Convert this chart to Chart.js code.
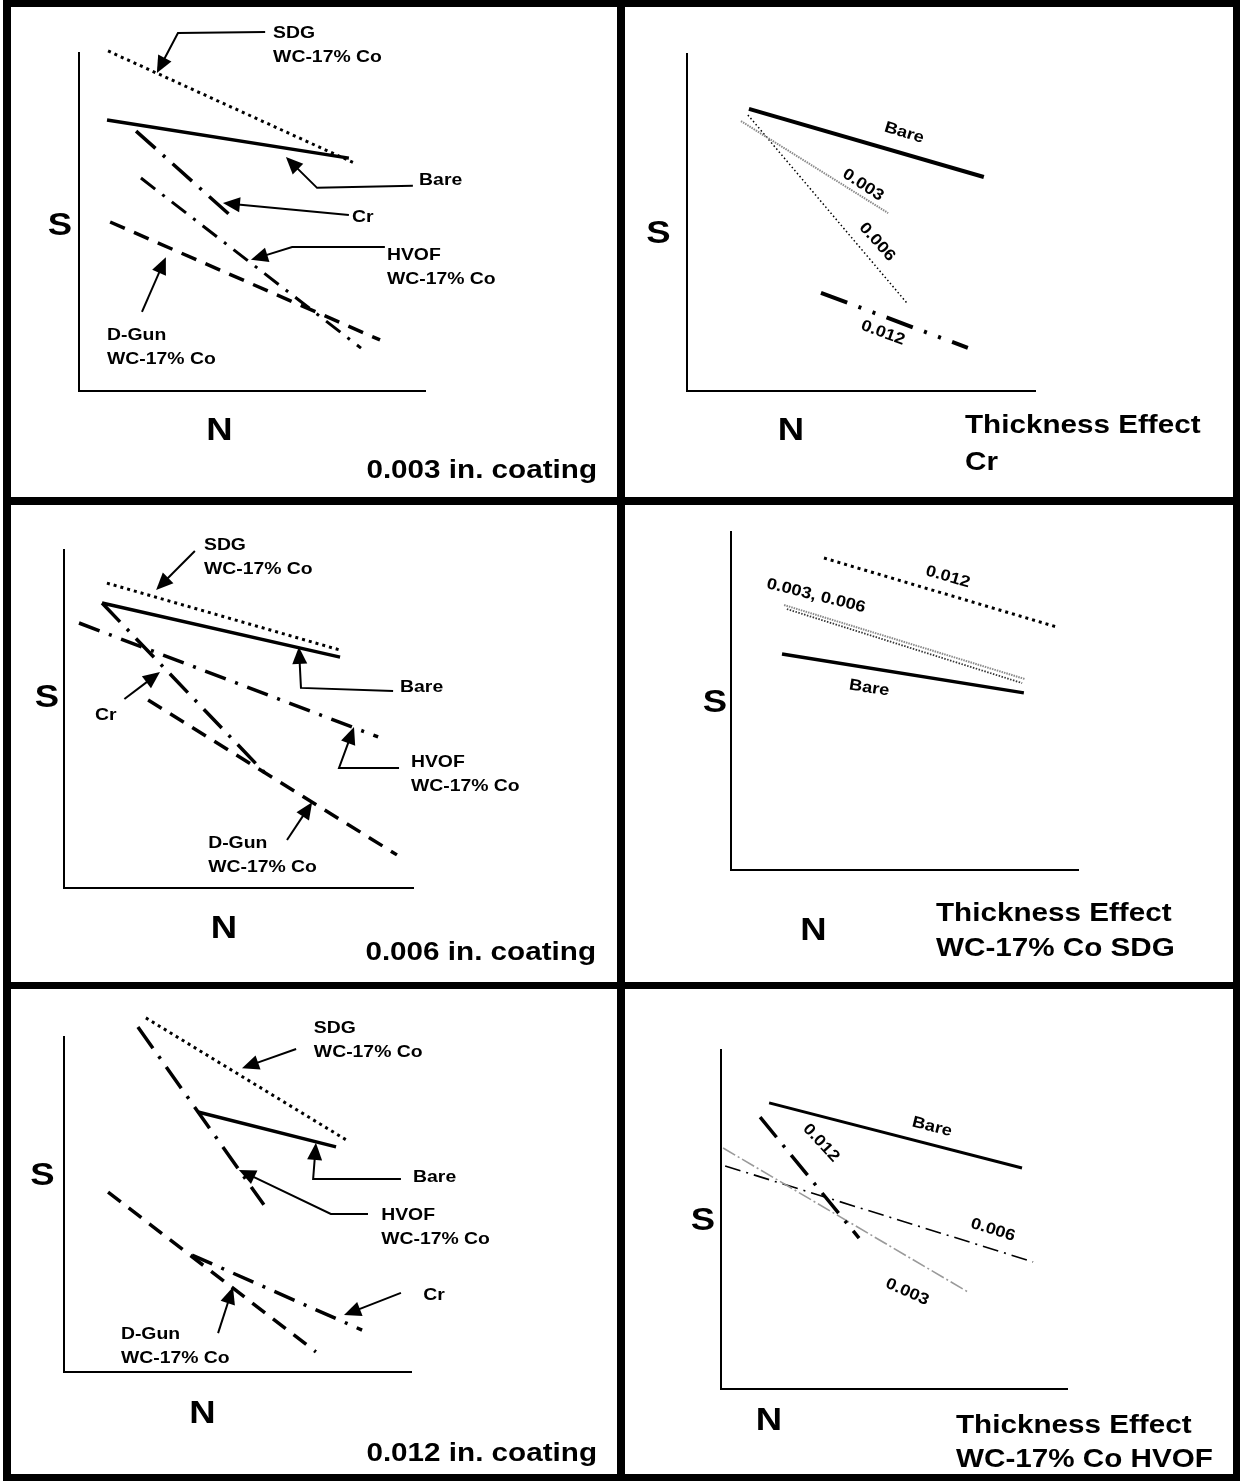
<!DOCTYPE html>
<html>
<head>
<meta charset="utf-8">
<title>S-N schematic comparison of coatings</title>
<script src="https://cdn.jsdelivr.net/npm/chart.js@4.4.1/dist/chart.umd.min.js"></script>
<style>
  html, body { margin:0; padding:0; background:#fff; }
  #page { position:relative; width:1240px; height:1481px; background:#fff; overflow:hidden; }
  .rule { position:absolute; background:#000; }
  canvas.panel { position:absolute; }
</style>
</head>
<body>
<div id="page"></div>
<script>
// ================= DATA (schematic units: N and S run 0..10 along each axis) =================
// Panel 1 : 0.003 in. coating
const p1Names = ['SDG WC-17% Co', 'Bare', 'Cr', 'HVOF WC-17% Co', 'D-Gun WC-17% Co'];
const p1N = [[0.84, 8.01], [0.81, 7.80], [1.65, 4.39], [1.79, 8.15], [0.90, 8.70]];
const p1S = [[10.06, 6.72], [8.02, 6.89], [7.69, 5.18], [6.30, 1.27], [5.00, 1.51]];
const p1NoteText = [['SDG', 'WC-17% Co'], ['Bare'], ['Cr'], ['HVOF', 'WC-17% Co'], ['D-Gun', 'WC-17% Co']];
const p1NoteAt = [[5.61, 10.44], [9.83, 6.09], [7.89, 5.00], [8.90, 3.88], [0.81, 1.51]];
const p1NotePath = [
  [[5.38, 10.62], [2.86, 10.59], [2.25, 9.41]],
  [[9.65, 6.07], [6.88, 6.01], [5.98, 6.92]],
  [[7.80, 5.21], [4.16, 5.56]],
  [[8.84, 4.26], [6.16, 4.26], [4.97, 3.88]],
  [[1.82, 2.34], [2.51, 3.96]]
];

// Panel 2 : Thickness effect, Cr
const p2Names = ['Bare', '0.003', '0.006', '0.012'];
const p2N = [[1.78, 8.53], [1.55, 5.78], [1.75, 6.32], [3.85, 8.07]];
const p2S = [[8.37, 6.35], [8.01, 5.28], [8.19, 2.61], [2.91, 1.28]];
const p2TagAt = [[6.24, 7.66], [5.06, 6.11], [5.46, 4.42], [5.63, 1.72]];

// Panel 3 : 0.006 in. coating
const p3Names = ['SDG WC-17% Co', 'Bare', 'Cr', 'HVOF WC-17% Co', 'D-Gun WC-17% Co'];
const p3N = [[1.23, 7.91], [1.09, 7.91], [1.09, 5.87], [0.43, 9.00], [2.41, 9.54]];
const p3S = [[9.02, 7.04], [8.43, 6.83], [8.43, 3.28], [7.84, 4.47], [5.56, 0.98]];
const p3NoteText = [['SDG', 'WC-17% Co'], ['Bare'], ['Cr'], ['HVOF', 'WC-17% Co'], ['D-Gun', 'WC-17% Co']];
const p3NoteAt = [[4.01, 10.00], [9.63, 5.80], [0.89, 4.97], [9.94, 3.58], [4.13, 1.18]];
const p3NotePath = [
  [[3.75, 9.97], [2.64, 8.82]],
  [[9.43, 5.83], [6.79, 5.92], [6.73, 7.13]],
  [[1.73, 5.59], [2.75, 6.39]],
  [[9.60, 3.55], [7.88, 3.55], [8.31, 4.76]],
  [[6.39, 1.42], [7.11, 2.54]]
];

// Panel 4 : Thickness effect, WC-17% Co SDG
const p4Names = ['0.012', '0.003', '0.006', 'Bare'];
const p4N = [[2.68, 9.39], [1.53, 8.47], [1.61, 8.39], [1.47, 8.44]];
const p4S = [[9.23, 7.19], [7.84, 5.65], [7.72, 5.53], [6.39, 5.24]];
const p4TagText = ['0.012', '0.003, 0.006', 'Bare'];
const p4TagAt = [[6.25, 8.67], [2.45, 8.11], [3.98, 5.38]];

// Panel 5 : 0.012 in. coating
const p5Names = ['SDG WC-17% Co', 'HVOF WC-17% Co', 'Bare', 'D-Gun WC-17% Co', 'Cr'];
const p5N = [[2.36, 8.13], [2.13, 5.76], [3.86, 7.84], [1.27, 7.26], [3.69, 8.59]];
const p5S = [[10.57, 6.93], [10.30, 4.99], [7.76, 6.72], [5.37, 0.60], [3.49, 1.25]];
const p5NoteText = [['SDG', 'WC-17% Co'], ['Bare'], ['HVOF', 'WC-17% Co'], ['Cr'], ['D-Gun', 'WC-17% Co']];
const p5NoteAt = [[7.20, 10.12], [10.06, 5.67], [9.14, 4.54], [10.35, 2.15], [1.64, 0.99]];
const p5NotePath = [
  [[6.69, 9.64], [5.13, 9.07]],
  [[9.71, 5.76], [7.18, 5.76], [7.26, 6.84]],
  [[8.76, 4.72], [7.69, 4.72], [5.04, 6.03]],
  [[9.71, 2.36], [8.07, 1.70]],
  [[4.44, 1.16], [4.87, 2.54]]
];

// Panel 6 : Thickness effect, WC-17% Co HVOF
const p6Names = ['Bare', '0.012', '0.003', '0.006'];
const p6N = [[1.39, 8.70], [1.13, 3.99], [0.06, 7.14], [0.12, 9.02]];
const p6S = [[8.44, 6.52], [8.02, 4.45], [7.11, 2.86], [6.58, 3.75]];
const p6TagAt = [[6.10, 7.73], [2.89, 7.26], [5.38, 2.86], [7.86, 4.69]];

// ================= STYLES =================
const FONT = '"Liberation Sans", Arial, Helvetica, sans-serif';
const STRETCH = 1.14;
const STYLE = {
  solid:       { w: 3.5, dash: [] },
  solidThin:   { w: 3,   dash: [] },
  solidHeavy:  { w: 4,   dash: [] },
  dot:         { w: 3,   dash: [3, 4] },
  dash:        { w: 3.5, dash: [16, 10] },
  longDashDot: { w: 3.5, dash: [26, 10, 3, 10] },
  dashDot:     { w: 3,   dash: [18, 9, 3, 9] },
  dashDotBold: { w: 3.5, dash: [22, 10, 3, 10] },
  dashDotDot:  { w: 4,   dash: [28, 12, 3, 12, 3, 12] },
  greyFine:    { w: 2,   dash: [1.5, 1], color: '#8a8a8a' },
  blackFine:   { w: 1.5, dash: [1.5, 2.5] },
  blackFine2:  { w: 1.8, dash: [1.5, 1.5], color: '#333' },
  thinDashDot: { w: 1.6, dash: [16, 6, 2, 6] },
  greyDashDot: { w: 1.6, dash: [14, 3, 2, 3], color: '#9a9a9a' }
};

// ================= LAYOUT (page pixels) =================
const PANELS = [
  { rect: [11, 7, 606, 490], axis: [79, 53, 425, 391],
    names: p1Names, N: p1N, S: p1S,
    styles: ['dot', 'solid', 'longDashDot', 'dashDot', 'dash'],
    notes: { text: p1NoteText, at: p1NoteAt, path: p1NotePath }, tags: null,
    sPos: [60, 235], nPos: [219.5, 440],
    caption: { lines: ['0.003 in. coating'], x: 597, y: 478, align: 'right', gap: 0 } },
  { rect: [625, 7, 608, 490], axis: [687, 54, 1035, 391],
    names: p2Names, N: p2N, S: p2S,
    styles: ['solidHeavy', 'greyFine', 'blackFine', 'dashDotDot'],
    notes: null, tags: { text: p2Names, at: p2TagAt, rot: [17, 33, 48, 20] },
    sPos: [658.5, 243], nPos: [791, 440],
    caption: { lines: ['Thickness Effect', 'Cr'], x: 965, y: 433, align: 'left', gap: 37 } },
  { rect: [11, 505, 606, 477], axis: [64, 550, 413, 888],
    names: p3Names, N: p3N, S: p3S,
    styles: ['dot', 'solid', 'longDashDot', 'dashDotBold', 'dash'],
    notes: { text: p3NoteText, at: p3NoteAt, path: p3NotePath }, tags: null,
    sPos: [47, 707], nPos: [224, 938],
    caption: { lines: ['0.006 in. coating'], x: 596, y: 960, align: 'right', gap: 0 } },
  { rect: [625, 505, 608, 477], axis: [731, 532, 1078, 870],
    names: p4Names, N: p4N, S: p4S,
    styles: ['dot', 'greyFine', 'blackFine2', 'solid'],
    notes: null, tags: { text: p4TagText, at: p4TagAt, rot: [16, 14, 9] },
    sPos: [715, 712], nPos: [813.5, 940],
    caption: { lines: ['Thickness Effect', 'WC-17% Co SDG'], x: 936, y: 921, align: 'left', gap: 35 } },
  { rect: [11, 989, 606, 485], axis: [64, 1037, 411, 1372],
    names: p5Names, N: p5N, S: p5S,
    styles: ['dot', 'longDashDot', 'solid', 'dash', 'dashDotBold'],
    notes: { text: p5NoteText, at: p5NoteAt, path: p5NotePath }, tags: null,
    sPos: [42.5, 1185], nPos: [202.5, 1423],
    caption: { lines: ['0.012 in. coating'], x: 597, y: 1461, align: 'right', gap: 0 } },
  { rect: [625, 989, 608, 485], axis: [721, 1050, 1067, 1389],
    names: p6Names, N: p6N, S: p6S,
    styles: ['solidThin', 'longDashDot', 'greyDashDot', 'thinDashDot'],
    notes: null, tags: { text: p6Names, at: p6TagAt, rot: [14, 47, 24, 17] },
    sPos: [703, 1230], nPos: [769, 1430],
    caption: { lines: ['Thickness Effect', 'WC-17% Co HVOF'], x: 956, y: 1433, align: 'left', gap: 34 } }
];

// frame rules: [left, top, width, height]
const RULES = [
  [3, 0, 1237, 7], [3, 1474, 1237, 7], [3, 0, 8, 1481], [1233, 0, 7, 1481],
  [617, 0, 8, 1481], [3, 497, 1237, 8], [3, 982, 1237, 7]
];

// ================= DRAWING =================
const page = document.getElementById('page');
RULES.forEach(r => {
  const d = document.createElement('div');
  d.className = 'rule';
  d.style.left = r[0] + 'px'; d.style.top = r[1] + 'px';
  d.style.width = r[2] + 'px'; d.style.height = r[3] + 'px';
  page.appendChild(d);
});

function drawText(ctx, str, x, y, o) {
  ctx.save();
  ctx.translate(x, y);
  if (o.rot) ctx.rotate(o.rot * Math.PI / 180);
  ctx.scale(STRETCH, 1);
  ctx.font = 'bold ' + o.size + 'px ' + FONT;
  ctx.textAlign = o.align || 'left';
  ctx.textBaseline = o.baseline || 'alphabetic';
  ctx.fillStyle = '#000';
  ctx.fillText(str, 0, 0);
  ctx.restore();
}

function drawArrow(ctx, pts) {
  const n = pts.length;
  const [x1, y1] = pts[n - 2], [x2, y2] = pts[n - 1];
  const a = Math.atan2(y2 - y1, x2 - x1);
  const L = 17, W = 7.5;
  ctx.save();
  ctx.lineWidth = 2;
  ctx.strokeStyle = '#000';
  ctx.fillStyle = '#000';
  ctx.setLineDash([]);
  ctx.beginPath();
  ctx.moveTo(pts[0][0], pts[0][1]);
  for (let i = 1; i < n - 1; i++) ctx.lineTo(pts[i][0], pts[i][1]);
  ctx.lineTo(x2 - (L - 2) * Math.cos(a), y2 - (L - 2) * Math.sin(a));
  ctx.stroke();
  ctx.beginPath();
  ctx.moveTo(x2, y2);
  ctx.lineTo(x2 - L * Math.cos(a) + W * Math.sin(a), y2 - L * Math.sin(a) - W * Math.cos(a));
  ctx.lineTo(x2 - L * Math.cos(a) - W * Math.sin(a), y2 - L * Math.sin(a) + W * Math.cos(a));
  ctx.closePath();
  ctx.fill();
  ctx.restore();
}

function annotPlugin(p, idx) {
  return {
    id: 'annot' + idx,
    afterDatasetsDraw(chart) {
      const ctx = chart.ctx, xs = chart.scales.x, ys = chart.scales.y;
      const px = v => [xs.getPixelForValue(v[0]), ys.getPixelForValue(v[1])];
      const ox = p.rect[0], oy = p.rect[1];
      ctx.save();
      if (p.notes) {
        p.notes.text.forEach((lines, i) => {
          drawArrow(ctx, p.notes.path[i].map(px));
          const [tx, ty] = px(p.notes.at[i]);
          lines.forEach((t, j) => drawText(ctx, t, tx, ty + j * 24, { size: 17 }));
        });
      }
      if (p.tags) {
        p.tags.text.forEach((t, i) => {
          const [tx, ty] = px(p.tags.at[i]);
          drawText(ctx, t, tx, ty, { size: 16, rot: p.tags.rot[i], align: 'center', baseline: 'middle' });
        });
      }
      drawText(ctx, 'S', p.sPos[0] - ox, p.sPos[1] - oy, { size: 32, align: 'center' });
      drawText(ctx, 'N', p.nPos[0] - ox, p.nPos[1] - oy, { size: 32, align: 'center' });
      p.caption.lines.forEach((t, j) =>
        drawText(ctx, t, p.caption.x - ox, p.caption.y - oy + j * p.caption.gap, { size: 26, align: p.caption.align }));
      ctx.restore();
    }
  };
}

PANELS.forEach((p, idx) => {
  const [l, t, w, h] = p.rect;
  const [aL, aT, aR, aB] = p.axis;
  const cv = document.createElement('canvas');
  cv.className = 'panel';
  cv.width = w; cv.height = h;
  cv.style.left = l + 'px'; cv.style.top = t + 'px';
  cv.style.width = w + 'px'; cv.style.height = h + 'px';
  page.appendChild(cv);

  const datasets = p.names.map((name, i) => {
    const st = STYLE[p.styles[i]];
    return {
      label: name,
      data: p.N[i].map((nv, k) => ({ x: nv, y: p.S[i][k] })),
      borderColor: st.color || '#000',
      borderWidth: st.w,
      borderDash: st.dash,
      borderCapStyle: 'butt',
      pointRadius: 0,
      fill: false,
      tension: 0,
      clip: false
    };
  });

  const axisOpts = {
    type: 'linear', min: 0, max: 10,
    ticks: { display: false },
    grid: { display: false, drawTicks: false, tickLength: 0 },
    border: { display: true, color: '#000', width: 2 },
    title: { display: false }
  };

  new Chart(cv, {
    type: 'line',
    data: { datasets },
    options: {
      responsive: false,
      maintainAspectRatio: false,
      animation: false,
      devicePixelRatio: 1,
      events: [],
      layout: { padding: { left: aL - l, top: aT - t, right: (l + w) - aR, bottom: (t + h) - aB } },
      plugins: { legend: { display: false }, tooltip: { enabled: false }, title: { display: false } },
      scales: { x: Object.assign({}, axisOpts), y: Object.assign({}, axisOpts) }
    },
    plugins: [annotPlugin(p, idx)]
  });
});
</script>
</body>
</html>
